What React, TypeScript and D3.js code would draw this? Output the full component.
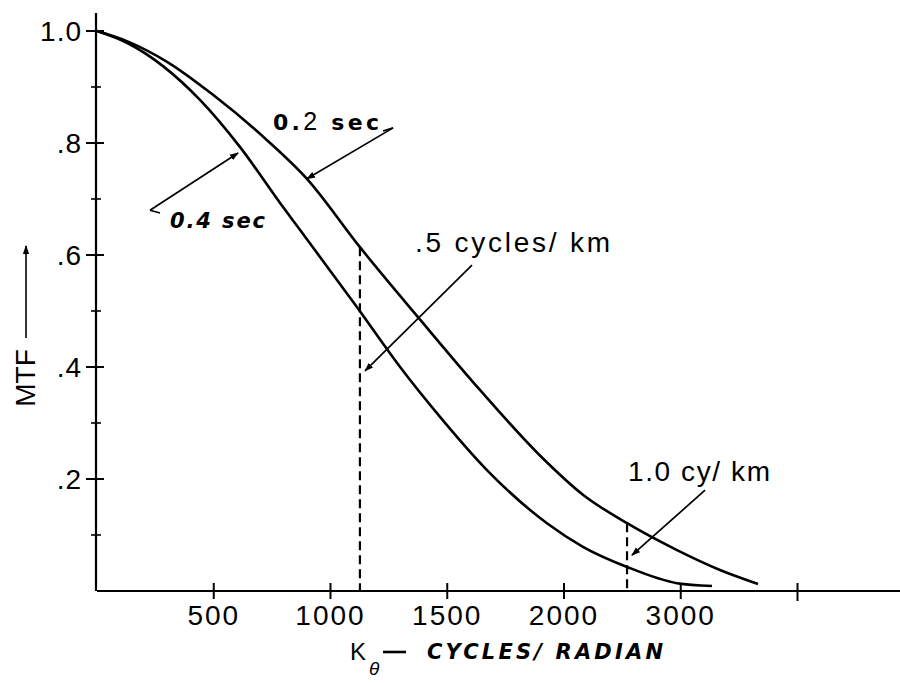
import React from 'react';
import * as d3 from 'd3';

// K_theta (cycles / radian) and MTF
const kUpper = [0, 128, 300, 497, 728, 899, 1126, 1383, 1640, 1897, 2081, 2270, 2484, 2668, 2831];
const mtfUpper = [1.0, 0.982, 0.945, 0.886, 0.805, 0.736, 0.614, 0.485, 0.359, 0.242, 0.172, 0.121, 0.073, 0.0375, 0.0125];

const kLower = [0, 128, 441, 612, 784, 869, 1113, 1298, 1469, 1670, 1927, 2081, 2270, 2484, 2634];
const mtfLower = [1.0, 0.979, 0.877, 0.793, 0.693, 0.645, 0.507, 0.4, 0.311, 0.216, 0.121, 0.079, 0.043, 0.014, 0.009];

const xTicks = [500, 1000, 1500, 2000, 2500, 3000];
const xTickLabels = ['500', '1000', '1500', '2000', '3000', ''];
const yTicks = [0.2, 0.4, 0.6, 0.8, 1.0];
const yTickLabels = ['.2', '.4', '.6', '.8', '1.0'];
const yMinor = [0.1, 0.3, 0.5, 0.7, 0.9];

// spatial frequency cut-offs (dashed markers)
const cutK = [1126, 2270];
const cutMtf = [0.614, 0.121];

const width = 900;
const height = 683;
const font = '"Liberation Sans", Arial, Helvetica, sans-serif';
const heavy = '"DejaVu Sans", "Liberation Sans", sans-serif';

export default function App() {
  const x = d3.scaleLinear().domain([0, 3439]).range([97, 900]);
  const y = d3.scaleLinear().domain([0, 1]).range([591, 31]);

  const upperPath = d3
    .line<number>()
    .x((d) => x(d))
    .y((_, i) => y(mtfUpper[i]))
    .curve(d3.curveMonotoneX)(kUpper);
  const lowerPath = d3
    .line<number>()
    .x((d) => x(d))
    .y((_, i) => y(mtfLower[i]))
    .curve(d3.curveMonotoneX)(kLower);

  // arrows in data units: [k0, m0, k1, m1]
  const arrows = [
    [1268, 0.827, 899, 0.736],
    [227, 0.68, 604, 0.782],
    [1606, 0.582, 1148, 0.393],
    [2604, 0.18, 2291, 0.064],
  ];

  return (
    <svg
      width={width}
      height={height}
      style={{ position: 'absolute', left: 0, top: 0, background: '#fff' }}
    >
      <defs>
        <marker
          id="ah"
          viewBox="0 0 10 10"
          refX="9"
          refY="5"
          markerWidth="9"
          markerHeight="9"
          markerUnits="userSpaceOnUse"
          orient="auto"
        >
          <path d="M0,1.5 L10,5 L0,8.5 Z" fill="#000" />
        </marker>
      </defs>
      <rect width={width} height={height} fill="#fff" />

      {/* axes */}
      <line x1={96} x2={96} y1={13} y2={y(0)} stroke="#000" strokeWidth={2.2} />
      <line x1={x(0)} x2={900} y1={y(0)} y2={y(0)} stroke="#000" strokeWidth={2.2} />

      {yTicks.map((t, i) => (
        <g key={'yt' + t}>
          <line x1={86} x2={104} y1={y(t)} y2={y(t)} stroke="#000" strokeWidth={2} />
          <text
            x={82}
            y={y(t)}
            dy="0.36em"
            textAnchor="end"
            fontFamily={font}
            fontSize={28}
            letterSpacing={1}
          >
            {yTickLabels[i]}
          </text>
        </g>
      ))}
      {yMinor.map((t) => (
        <line key={'ym' + t} x1={91} x2={101} y1={y(t)} y2={y(t)} stroke="#000" strokeWidth={1.6} />
      ))}

      {xTicks.map((t, i) => (
        <g key={'xt' + t}>
          <line
            x1={x(t)}
            x2={x(t)}
            y1={y(0) - 8}
            y2={y(0) + (i === xTicks.length - 1 ? 10 : 8)}
            stroke="#000"
            strokeWidth={2}
          />
          <text
            x={x(t)}
            y={625}
            textAnchor="middle"
            fontFamily={font}
            fontSize={28}
            letterSpacing={2}
          >
            {xTickLabels[i]}
          </text>
        </g>
      ))}

      {/* curves */}
      <path d={upperPath || ''} fill="none" stroke="#000" strokeWidth={2.6} />
      <path d={lowerPath || ''} fill="none" stroke="#000" strokeWidth={2.6} />

      {/* dashed cut-off lines */}
      {cutK.map((k, i) => (
        <line
          key={'cut' + k}
          x1={x(k)}
          x2={x(k)}
          y1={y(cutMtf[i])}
          y2={y(0)}
          stroke="#000"
          strokeWidth={2.2}
          strokeDasharray="9,5"
        />
      ))}

      {/* arrows */}
      {arrows.map((a, i) => (
        <line
          key={'ar' + i}
          x1={x(a[0])}
          y1={y(a[1])}
          x2={x(a[2])}
          y2={y(a[3])}
          stroke="#000"
          strokeWidth={1.7}
          markerEnd="url(#ah)"
        />
      ))}
      <line x1={383} y1={131} x2={x(1268)} y2={y(0.827)} stroke="#000" strokeWidth={1.7} />
      <line x1={x(227)} y1={y(0.68)} x2={160} y2={213} stroke="#000" strokeWidth={1.7} />

      {/* annotations */}
      <text x={273} y={130} fontFamily={heavy} fontSize={22} fontWeight={700} textLength={106}>
        0.<tspan fontFamily={font} fontWeight={400} fontSize={25}>2</tspan> sec
      </text>
      <text
        x={170}
        y={228}
        fontFamily={heavy}
        fontSize={21}
        fontWeight={700}
        fontStyle="italic"
        textLength={95}
      >
        0.4 sec
      </text>
      <text x={415} y={252} fontFamily={font} fontSize={28} textLength={195}>
        .5 cycles/ km
      </text>
      <text x={628} y={481} fontFamily={font} fontSize={28} textLength={142}>
        1.0 cy/ km
      </text>

      {/* y axis title */}
      <text
        transform="translate(35,378) rotate(-90)"
        textAnchor="middle"
        fontFamily={font}
        fontSize={28}
      >
        MTF
      </text>
      <line x1={26} y1={338} x2={26} y2={246} stroke="#000" strokeWidth={1.6} markerEnd="url(#ah)" />

      {/* x axis title */}
      <text x={350} y={660} fontFamily={font} fontSize={24}>
        K
      </text>
      <text x={369} y={675} fontFamily={font} fontSize={19} fontStyle="italic">
        θ
      </text>
      <line x1={383} x2={406} y1={652} y2={652} stroke="#000" strokeWidth={2.6} />
      <text
        x={427}
        y={659}
        fontFamily={heavy}
        fontSize={21}
        fontWeight={700}
        fontStyle="italic"
        textLength={236}
      >
        CYCLES/ RADIAN
      </text>
    </svg>
  );
}
